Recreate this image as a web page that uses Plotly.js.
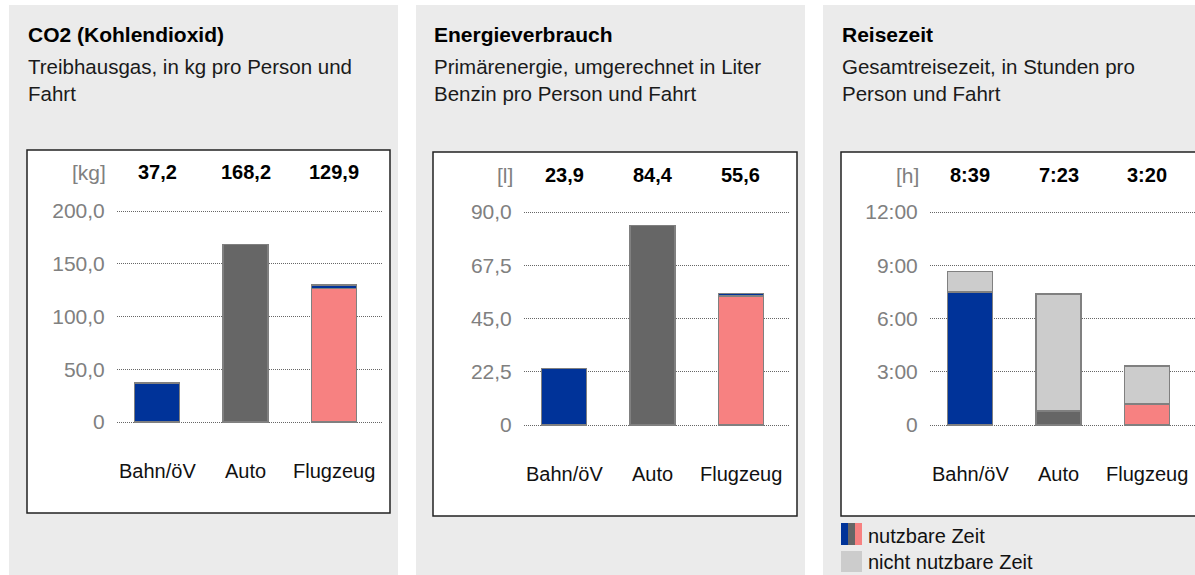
<!DOCTYPE html>
<html>
<head>
<meta charset="utf-8">
<script src="https://cdn.plot.ly/plotly-3.0.1.min.js"></script>
<style>html,body{margin:0;padding:0;background:#fff;}#chart{width:1195px;height:575px;}</style>
</head>
<body>
<div id="chart"></div>
<script>
// ---- data ----
const categories = ["Bahn/öV", "Auto", "Flugzeug"];

const co2Main = [37.2, 168.2, 126.5];
const co2Extra = [null, null, 3.4];
const co2Labels = ["37,2", "168,2", "129,9"];
const co2Ticks = [0, 50, 100, 150, 200];
const co2TickText = ["0", "50,0", "100,0", "150,0", "200,0"];

const energyMain = [23.9, 84.4, 54.5];
const energyExtra = [null, null, 1.1];
const energyLabels = ["23,9", "84,4", "55,6"];
const energyTicks = [0, 22.5, 45, 67.5, 90];
const energyTickText = ["0", "22,5", "45,0", "67,5", "90,0"];

const timeUsable = [7.5, 0.8, 1.17];
const timeUnusable = [1.15, 6.583, 2.163];
const timeLabels = ["8:39", "7:23", "3:20"];
const timeTicks = [0, 3, 6, 9, 12];
const timeTickText = ["0", "3:00", "6:00", "9:00", "12:00"];

const panelTitles = ["CO2 (Kohlendioxid)", "Energieverbrauch", "Reisezeit"];
const panelSubtitles = [
  "Treibhausgas, in kg pro Person und<br>Fahrt",
  "Primärenergie, umgerechnet in Liter<br>Benzin pro Person und Fahrt",
  "Gesamtreisezeit, in Stunden pro<br>Person und Fahrt"
];
const units = ["[kg]", "[l]", "[h]"];
const legendLabels = ["nutzbare Zeit", "nicht nutzbare Zeit"];

// ---- styling ----
const W = 1195, H = 575;
const NAVY = "#003399", DARK = "#666666", PINK = "#f78181", LIGHT = "#cccccc";
const FONT = "Liberation Sans, Arial, Helvetica, sans-serif";
const px = x => x / W;
const py = y => 1 - y / H;
const barColors = [NAVY, DARK, PINK];
const outline = {color: "#808080", width: 1.5};
const BW = 0.51;

// per panel geometry (pixels)
const P = [
  {panel:[9,398], box:[27,390,150,513], plotX:[117,382], plotY:[211,422], titleX:26, valY:172, catY:471},
  {panel:[416,805], box:[433,797,152,516], plotX:[524,789], plotY:[212,425], titleX:432, valY:175, catY:474},
  {panel:[823,1195], box:[841,1200,152,516], plotX:[930,1195], plotY:[212,425], titleX:840, valY:175, catY:474}
];

const traces = [
  {type:"bar", x:categories, y:co2Main, xaxis:"x", yaxis:"y", width:BW, marker:{color:barColors, line:outline}},
  {type:"bar", x:categories, y:co2Extra, xaxis:"x", yaxis:"y", width:BW, marker:{color:NAVY, line:outline}},
  {type:"bar", x:categories, y:energyMain, xaxis:"x2", yaxis:"y2", width:BW, marker:{color:barColors, line:outline}},
  {type:"bar", x:categories, y:energyExtra, xaxis:"x2", yaxis:"y2", width:BW, marker:{color:NAVY, line:outline}},
  {type:"bar", x:categories, y:timeUsable, xaxis:"x3", yaxis:"y3", width:BW, marker:{color:barColors, line:outline}},
  {type:"bar", x:categories, y:timeUnusable, xaxis:"x3", yaxis:"y3", width:BW, marker:{color:LIGHT, line:outline}}
];
traces.forEach(t => { t.showlegend = false; t.hoverinfo = "none"; });

const yRanges = [[0,200],[0,90],[0,12]];
const yTicks = [[co2Ticks, co2TickText],[energyTicks, energyTickText],[timeTicks, timeTickText]];
const valueLabels = [co2Labels, energyLabels, timeLabels];

const layout = {
  width: W, height: H,
  margin: {l:0, r:0, t:0, b:0, pad:0},
  paper_bgcolor: "#ffffff",
  plot_bgcolor: "rgba(0,0,0,0)",
  barmode: "stack",
  font: {family: FONT, size: 20, color: "#222"},
  shapes: [],
  annotations: []
};

const EXT = 4; // px of padding so the end gridlines are drawn
P.forEach((p, i) => {
  const sx = i === 0 ? "" : String(i + 1);
  const r = yRanges[i];
  const k = (p.plotY[1] - p.plotY[0]) / (r[1] - r[0]);
  layout["xaxis" + sx] = {
    domain: [px(p.plotX[0]), px(p.plotX[1])],
    anchor: "y" + sx,
    type: "category",
    range: [-0.455, 2.545],
    showticklabels: false, showgrid: false, zeroline: false, showline: false,
    ticks: "", fixedrange: true
  };
  layout["yaxis" + sx] = {
    domain: [py(p.plotY[1] + EXT), py(p.plotY[0] - EXT)],
    anchor: "x" + sx,
    range: [r[0] - EXT / k, r[1] + EXT / k],
    tickmode: "array",
    tickvals: yTicks[i][0],
    ticktext: yTicks[i][1],
    tickfont: {family: FONT, size: 21, color: "#808080"},
    ticks: "outside", ticklen: 7, tickcolor: "rgba(0,0,0,0)",
    showgrid: true, gridcolor: "#666666", griddash: "1px,1px", gridwidth: 1,
    zeroline: false, showline: false, fixedrange: true
  };
  // panel background
  layout.shapes.push({type:"rect", xref:"paper", yref:"paper", layer:"below",
    x0:px(p.panel[0]), x1:px(p.panel[1]), y0:py(575), y1:py(5),
    fillcolor:"#ebebeb", line:{width:0}});
  // white chart box
  layout.shapes.push({type:"rect", xref:"paper", yref:"paper", layer:"below",
    x0:px(p.box[0]), x1:px(p.box[1]), y0:py(p.box[3]), y1:py(p.box[2]),
    fillcolor:"#ffffff", line:{color:"#222222", width:1.5}});
  // titles
  layout.annotations.push({xref:"paper", yref:"paper", x:px(p.titleX), y:py(35),
    xanchor:"left", yanchor:"middle", showarrow:false, align:"left",
    text:"<b>" + panelTitles[i] + "</b>", font:{family:FONT, size:21, color:"#000"}});
  layout.annotations.push({xref:"paper", yref:"paper", x:px(p.titleX), y:py(80),
    xanchor:"left", yanchor:"middle", showarrow:false, align:"left",
    text:panelSubtitles[i], font:{family:FONT, size:20.5, color:"#1a1a1a"}});
  // unit label
  layout.annotations.push({xref:"paper", yref:"paper", x:px(p.plotX[0] - 9), y:py(p.valY),
    xanchor:"right", yanchor:"middle", showarrow:false,
    text:units[i], font:{family:FONT, size:21, color:"#808080"}});
  // value labels and category labels
  categories.forEach((c, j) => {
    layout.annotations.push({xref:"x" + sx, yref:"paper", x:c, y:py(p.valY),
      xanchor:"center", yanchor:"middle", showarrow:false,
      text:"<b>" + valueLabels[i][j] + "</b>", font:{family:FONT, size:20, color:"#000"}});
    layout.annotations.push({xref:"x" + sx, yref:"paper", x:c, y:py(p.catY),
      xanchor:"center", yanchor:"middle", showarrow:false,
      text:c, font:{family:FONT, size:20, color:"#111"}});
  });
});

// legend for panel 3
const sw = [[841,848,NAVY],[848,855,DARK],[855,862,PINK]];
sw.forEach(s => layout.shapes.push({type:"rect", xref:"paper", yref:"paper",
  x0:px(s[0]), x1:px(s[1]), y0:py(545), y1:py(523), fillcolor:s[2], line:{width:0}}));
layout.shapes.push({type:"rect", xref:"paper", yref:"paper",
  x0:px(841), x1:px(862), y0:py(572), y1:py(551), fillcolor:LIGHT, line:{width:0}});
layout.annotations.push({xref:"paper", yref:"paper", x:px(866), y:py(536),
  xanchor:"left", yanchor:"middle", showarrow:false, text:legendLabels[0],
  font:{family:FONT, size:20, color:"#111"}});
layout.annotations.push({xref:"paper", yref:"paper", x:px(866), y:py(562),
  xanchor:"left", yanchor:"middle", showarrow:false, text:legendLabels[1],
  font:{family:FONT, size:20, color:"#111"}});

Plotly.newPlot("chart", traces, layout, {staticPlot:true, displayModeBar:false});
</script>
</body>
</html>
